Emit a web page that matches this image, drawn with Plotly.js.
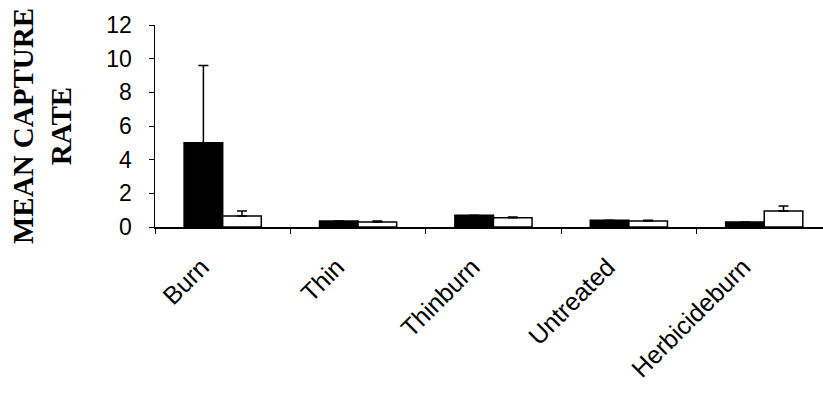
<!DOCTYPE html>
<html>
<head>
<meta charset="utf-8">
<script src="https://cdn.plot.ly/plotly-3.0.1.min.js"></script>
<style>
  html, body { margin: 0; padding: 0; background: #fff; }
  #chart { width: 823px; height: 408px; }
</style>
</head>
<body>
<div id="chart"></div>
<script>
// Treatments along the x axis
const treatments = ["Burn", "Thin", "Thinburn", "Untreated", "Herbicideburn"];

// Mean capture rate, first series (solid black bars)
const seriesA = [5.0, 0.35, 0.7, 0.4, 0.3];
const seriesAErr = [4.6, 0.0, 0.0, 0.0, 0.0];

// Mean capture rate, second series (open bars)
const seriesB = [0.65, 0.3, 0.55, 0.35, 0.95];
const seriesBErr = [0.3, 0.05, 0.05, 0.05, 0.3];

const yTicks = [0, 2, 4, 6, 8, 10, 12];

const zeros = treatments.map(() => 0);

const errStyle = { color: "#000", thickness: 1.5, width: 5 };

const traces = [
  {
    type: "bar",
    x: treatments,
    y: seriesA,
    marker: { color: "#000", line: { color: "#000", width: 1.5 } },
    error_y: Object.assign({ type: "data", array: seriesAErr, arrayminus: zeros, symmetric: false, visible: true }, errStyle),
    showlegend: false
  },
  {
    type: "bar",
    x: treatments,
    y: seriesB,
    marker: { color: "#fff", line: { color: "#000", width: 1.5 } },
    error_y: Object.assign({ type: "data", array: seriesBErr, arrayminus: zeros, symmetric: false, visible: true }, errStyle),
    showlegend: false
  }
];

const layout = {
  width: 823,
  height: 408,
  margin: { l: 155, r: 0, t: 25, b: 181 },
  paper_bgcolor: "#fff",
  plot_bgcolor: "#fff",
  barmode: "group",
  bargap: 0.43,
  bargroupgap: 0,
  font: { family: "Liberation Sans, Arial, sans-serif", color: "#000" },
  xaxis: {
    type: "category",
    range: [-0.5, 4.434],
    tickangle: -45,
    tickson: "boundaries",
    ticks: "outside",
    ticklen: 5,
    tickcolor: "#000",
    ticklabelstandoff: 14,
    ticklabelshift: -21,
    tickfont: { size: 25, family: "Liberation Sans, Arial, sans-serif", color: "#000" },
    showline: true,
    linecolor: "#000",
    linewidth: 1.5,
    showgrid: false,
    zeroline: false,
    automargin: false
  },
  yaxis: {
    range: [0, 12],
    tickvals: yTicks,
    ticktext: yTicks.map(String),
    ticks: "outside",
    ticklen: 5,
    tickcolor: "#000",
    ticklabelstandoff: 12,
    tickfont: { size: 23, family: "Liberation Sans, Arial, sans-serif", color: "#000" },
    showline: true,
    linecolor: "#000",
    linewidth: 1.5,
    showgrid: false,
    zeroline: false,
    automargin: false,
    title: {
      text: "<b>MEAN CAPTURE<br>RATE</b>",
      font: { size: 29, family: "Liberation Serif, Times New Roman, serif", color: "#000" },
      standoff: 26
    }
  }
};

Plotly.newPlot("chart", traces, layout, { displayModeBar: false, staticPlot: true });
</script>
</body>
</html>
